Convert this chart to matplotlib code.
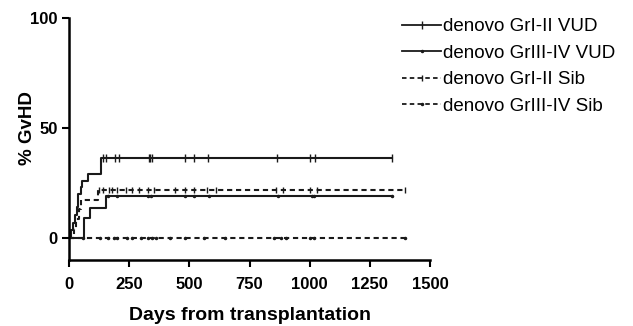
import numpy as np
import matplotlib
matplotlib.use('Agg')
import matplotlib.pyplot as plt

plt.rcParams['font.family'] = ['Liberation Sans', 'DejaVu Sans']

labels = ['denovo GrI-II VUD', 'denovo GrIII-IV VUD', 'denovo GrI-II Sib', 'denovo GrIII-IV Sib']

# step curves (day, % GvHD)
vud12_days = [0, 8, 16, 24, 32, 38, 48, 55, 77, 131, 1343]
vud12_pct = [0, 3.5, 7, 10.5, 14, 20, 23, 26, 29, 36.4, 36.4]
vud34_days = [0, 62, 87, 152, 1343]
vud34_pct = [0, 9.1, 13.6, 19.1, 19.1]
sib12_days = [0, 20, 30, 40, 50, 120, 1395]
sib12_pct = [0, 4.3, 8.7, 13.0, 17.3, 21.8, 21.8]
sib34_days = [0, 1395]
sib34_pct = [0, 0]

# censored observations (days)
vud12_cens = [141, 152, 192, 206, 331, 338, 345, 481, 518, 576, 866, 1001, 1022, 1343]
vud34_cens = [160, 200, 330, 340, 480, 520, 580, 870, 1010, 1020, 1343]
sib12_cens = [125, 140, 165, 180, 200, 235, 260, 290, 330, 355, 440, 480, 520, 575, 610,
              860, 890, 1000, 1030, 1395]
sib34_cens = [60, 130, 160, 185, 200, 240, 260, 300, 330, 345, 360, 420, 480, 560, 650,
              850, 880, 900, 1000, 1020, 1395]


def step_value(days, pct, t):
    idx = np.searchsorted(days, t, side='right') - 1
    return np.asarray(pct)[idx]


fig = plt.figure(figsize=(6.33, 3.26), dpi=100)
ax = fig.add_axes([69 / 633, 66 / 326, 361 / 633, 242 / 326])

series = [
    (vud12_days, vud12_pct, vud12_cens, '-', '|', 6),
    (vud34_days, vud34_pct, vud34_cens, '-', '.', 3),
    (sib12_days, sib12_pct, sib12_cens, (0, (2.5, 1.8)), '|', 5),
    (sib34_days, sib34_pct, sib34_cens, (0, (2.5, 1.8)), '.', 3),
]

handles = []
for (d, p, c, ls, mk, ms), lab in zip(series, labels):
    ax.step(d, p, where='post', color='#1a1a1a', lw=1.5, linestyle=ls)
    ax.plot(c, step_value(d, p, c), linestyle='none', marker=mk, ms=ms,
            color='#1a1a1a', mew=1.0)
    h, = ax.plot([], [], color='#1a1a1a', lw=1.3, linestyle=ls, marker=mk,
                 ms=ms, mew=1.0, label=lab)
    handles.append(h)

ax.set_xlim(0, 1500)
ax.set_ylim(-10, 100)
ax.set_xticks(np.arange(0, 1501, 250))
ax.set_yticks([0, 50, 100])
for s in ['top', 'right']:
    ax.spines[s].set_visible(False)
for s in ['left', 'bottom']:
    ax.spines[s].set_linewidth(1.8)
ax.tick_params(width=1.5, length=5, labelsize=12)
ax.tick_params(axis='x', pad=7)
ax.tick_params(axis='y', pad=3)
for t in ax.get_xticklabels() + ax.get_yticklabels():
    t.set_fontweight('bold')

ax.set_xlabel('Days from transplantation', fontsize=14, fontweight='bold')
ax.xaxis.set_label_coords(0.5, -0.228)
ax.xaxis.label.set_va('center')
ax.set_ylabel('% GvHD', fontsize=13.5, fontweight='bold')
ax.yaxis.set_label_coords(-0.114, 0.545)
ax.yaxis.label.set_va('center')

fig.legend(handles=handles, loc='upper left', bbox_to_anchor=(402 / 633, 1 - 18 / 326),
           frameon=False, fontsize=13.5, numpoints=1, handlelength=2.1,
           handletextpad=0.1, labelspacing=0.5, borderpad=0, borderaxespad=0)

fig.savefig('out.png', dpi=100)
